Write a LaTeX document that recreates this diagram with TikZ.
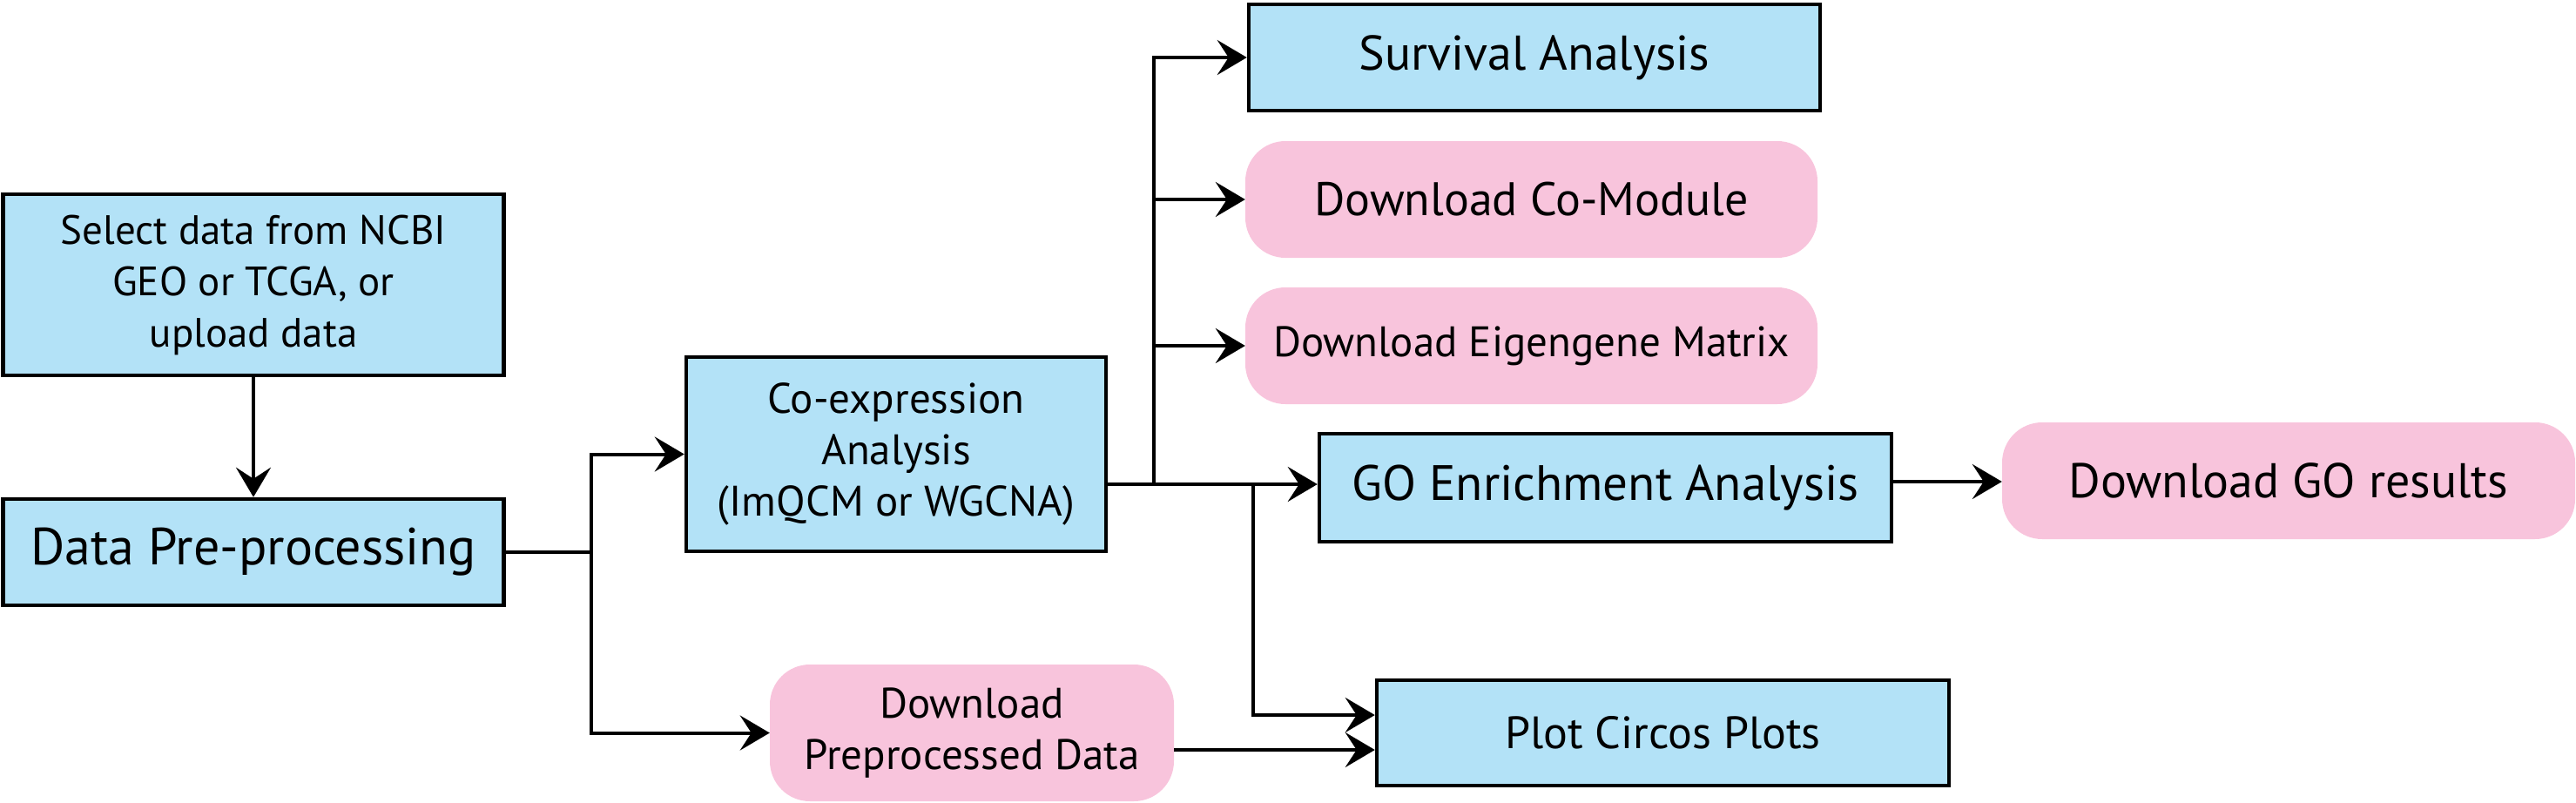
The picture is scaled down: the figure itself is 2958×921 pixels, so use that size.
\documentclass[tikz,border=0pt]{standalone}
\usepackage{fontspec}
\setmainfont{PT Sans}
\usetikzlibrary{arrows.meta}
\definecolor{boxblue}{RGB}{179,226,247}
\definecolor{boxpink}{RGB}{248,196,220}
\begin{document}
\begin{tikzpicture}[x=1pt,y=-1pt,
  bluebox/.style={draw=black, line width=4.5pt, fill=boxblue, inner sep=0pt, align=center},
  pinkbox/.style={fill=boxpink, rounded corners=46pt, inner sep=0pt, align=center},
  conn/.style={line width=4pt},
  arr/.style={conn, -{Stealth[length=34pt,width=40pt,inset=13pt]}},
  fs/.style={font=\fontsize{#1}{59}\selectfont}
]
\useasboundingbox (0,0) rectangle (2958,921);

\node[bluebox, minimum width=575pt, minimum height=208pt, fs=47] (sel) at (291,327) {Select data from NCBI\\GEO or TCGA, or\\upload data};
\node[bluebox, minimum width=575pt, minimum height=122pt, fs=60] (pre) at (291,634) {Data Pre-processing};
\node[bluebox, minimum width=482pt, minimum height=223pt, fs=49] (coexp) at (1029,521.5) {Co-expression\\Analysis\\(ImQCM or WGCNA)};
\node[bluebox, minimum width=656pt, minimum height=122pt, fs=56] (surv) at (1762,66) {Survival Analysis};
\node[pinkbox, minimum width=657pt, minimum height=134pt, fs=54] (com) at (1758.5,229) {Download Co-Module};
\node[pinkbox, minimum width=657pt, minimum height=134pt, fs=49] (eig) at (1758.5,397) {Download Eigengene Matrix};
\node[bluebox, minimum width=657pt, minimum height=124pt, fs=57] (go) at (1843.5,560) {GO Enrichment Analysis};
\node[bluebox, minimum width=657pt, minimum height=121pt, fs=52] (circ) at (1909.5,841.5) {Plot Circos Plots};
\node[pinkbox, minimum width=464pt, minimum height=157pt, fs=49] (dlpre) at (1116,841.5) {Download\\Preprocessed Data};
\node[pinkbox, minimum width=658pt, minimum height=134pt, fs=56] (dlgo) at (2628,552) {Download GO results};

\coordinate (j1) at (679,634);
\coordinate (t1) at (1325,556);
\coordinate (t2) at (1439,556);
\coordinate (y821) at (0,821);
\coordinate (y861) at (0,861);
\coordinate (y553) at (0,553);

\draw[arr] (sel.south) -- (pre.north);
\draw[conn] (pre.east |- j1) -- (j1);
\draw[arr] (j1) |- (coexp.west);
\draw[arr] (j1) |- (dlpre.west);

\draw[conn] (coexp.east |- t1) -- (t1);
\draw[arr] (t1) |- (surv.west);
\draw[arr] (t1 |- com.west) -- (com.west);
\draw[arr] (t1 |- eig.west) -- (eig.west);
\draw[arr] (t1) -- (go.west |- t1);
\draw[arr] (t2) |- (circ.west |- y821);
\draw[arr] (dlpre.east |- y861) -- (circ.west |- y861);
\draw[arr] (go.east |- y553) -- (dlgo.west |- y553);
\end{tikzpicture}
\end{document}
